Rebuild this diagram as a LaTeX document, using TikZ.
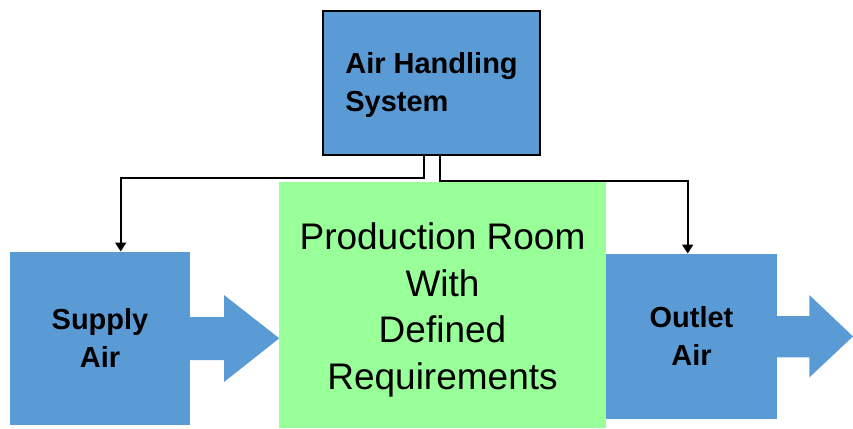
\documentclass[tikz,border=0pt]{standalone}
\usepackage{fontspec}
\setmainfont{Liberation Sans}
\usetikzlibrary{arrows.meta}
\definecolor{airblue}{RGB}{91,155,213}
\definecolor{roomgreen}{RGB}{153,255,153}
\tikzset{
  bluebox/.style={rectangle, fill=airblue, inner sep=0pt, outer sep=0pt},
  unitlabel/.style={font=\fontsize{29}{38}\selectfont\bfseries},
  conn/.style={draw=black, line width=1.8pt, line join=miter,
    -{Triangle[width=11pt,length=9pt]}},
  flow/.style={fill=airblue}
}
\begin{document}
\begin{tikzpicture}[x=1pt, y=-1pt]
  \useasboundingbox (0,0) rectangle (853,428);

  % production room in the middle
  \node[rectangle, fill=roomgreen, inner sep=0pt, minimum width=327pt,
        minimum height=246pt,
        label={[align=center, inner sep=0pt, yshift=-5pt,
                font=\fontsize{37}{46.7}\selectfont]center:{Production Room\\With\\Defined\\Requirements}}]
        (room) at (442.5,305) {};

  % air handling unit on top
  \node[bluebox, draw=black, line width=2pt, minimum width=217pt,
        minimum height=144pt,
        label={[align=left, inner sep=0pt, yshift=-2pt, unitlabel]center:{Air Handling\\System}}]
        (ahs) at (431.5,83) {};

  % supply side
  \node[bluebox, minimum width=180pt, minimum height=173.5pt, align=center,
        unitlabel] (supply) at (100,338.25) {Supply\\Air};
  \fill[flow] (189,317) -- (224,317) -- (224,295) -- (279.3,338.3)
    -- (224,382) -- (224,360) -- (189,360) -- cycle;

  % outlet side
  \node[bluebox, minimum width=171pt, minimum height=165.5pt, align=center,
        unitlabel] (outlet) at (691.5,336.25) {Outlet\\Air};
  \fill[flow] (776,316) -- (809.3,316) -- (809.3,295) -- (853,336.4)
    -- (809.3,377.5) -- (809.3,357.3) -- (776,357.3) -- cycle;

  % air distribution lines
  \draw[conn] ([xshift=-7.5pt]ahs.south) -- ++(0,22.7)
    -| ([xshift=20.7pt]supply.north);
  \draw[conn] ([xshift=8.5pt]ahs.south) -- ++(0,26.3)
    -| ([xshift=-3.8pt]outlet.north);
\end{tikzpicture}
\end{document}
